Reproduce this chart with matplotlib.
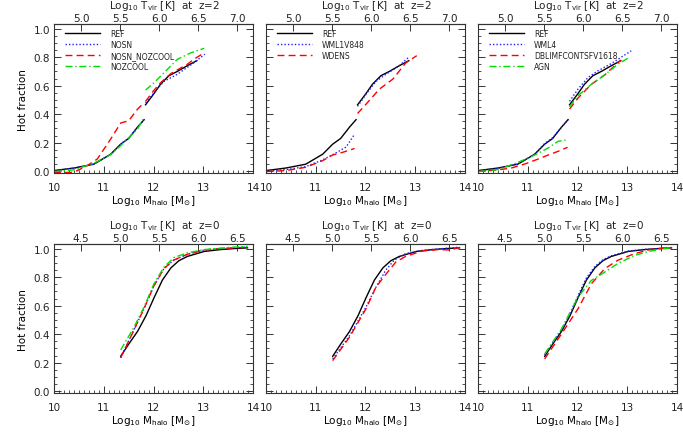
import numpy as np
import matplotlib
matplotlib.use("Agg")
import matplotlib.pyplot as plt
from matplotlib.ticker import MultipleLocator

# ---- data: hot fraction vs log10 halo mass ----
# z=2 (two resolution segments each: lo / hi)
ref_z2_lo_m = [10.0, 10.4, 10.8, 11.14, 11.34, 11.5, 11.68, 11.81]
ref_z2_lo_f = [0.005, 0.023, 0.05, 0.12, 0.19, 0.23, 0.31, 0.362]
ref_z2_hi_m = [11.84, 12.0, 12.14, 12.31, 12.48, 12.68, 12.87]
ref_z2_hi_f = [0.466, 0.54, 0.61, 0.67, 0.70, 0.74, 0.775]

nosn_z2_lo_m = [10.0, 10.4, 10.8, 11.14, 11.34, 11.5, 11.68, 11.81]
nosn_z2_lo_f = [0.004, 0.022, 0.05, 0.118, 0.19, 0.232, 0.31, 0.36]
nosn_z2_hi_m = [11.84, 12.01, 12.21, 12.48, 12.81, 13.03]
nosn_z2_hi_f = [0.48, 0.55, 0.63, 0.68, 0.76, 0.82]

nozc_nosn_z2_lo_m = [10.0, 10.4, 10.67, 10.87, 11.14, 11.34, 11.5, 11.68, 11.81]
nozc_nosn_z2_lo_f = [-0.01, -0.007, 0.04, 0.086, 0.226, 0.338, 0.354, 0.436, 0.48]
nozc_nosn_z2_hi_m = [11.84, 12.0, 12.14, 12.35, 12.68, 12.81, 13.02]
nozc_nosn_z2_hi_f = [0.49, 0.564, 0.62, 0.685, 0.75, 0.785, 0.83]

nozc_z2_lo_m = [10.0, 10.4, 10.8, 11.14, 11.34, 11.68, 11.81]
nozc_z2_lo_f = [-0.002, 0.01, 0.056, 0.117, 0.18, 0.297, 0.375]
nozc_z2_hi_m = [11.84, 12.01, 12.21, 12.48, 12.75, 13.02]
nozc_z2_hi_f = [0.569, 0.62, 0.69, 0.785, 0.83, 0.862]

wml1_z2_lo_m = [10.0, 10.4, 10.8, 11.14, 11.41, 11.61, 11.78]
wml1_z2_lo_f = [0.0, 0.012, 0.033, 0.08, 0.13, 0.17, 0.26]
wml1_z2_hi_m = [11.84, 12.01, 12.21, 12.41, 12.68, 12.87]
wml1_z2_hi_f = [0.455, 0.54, 0.63, 0.68, 0.74, 0.80]

wdens_z2_lo_m = [10.0, 10.4, 10.8, 11.14, 11.34, 11.54, 11.78]
wdens_z2_lo_f = [-0.002, 0.005, 0.028, 0.075, 0.114, 0.133, 0.16]
wdens_z2_hi_m = [11.84, 12.01, 12.28, 12.55, 12.81, 13.03]
wdens_z2_hi_f = [0.405, 0.47, 0.576, 0.646, 0.76, 0.81]

wml4_z2_lo_m = [10.0, 10.4, 10.8, 11.14, 11.34, 11.5, 11.68, 11.81]
wml4_z2_lo_f = [0.003, 0.02, 0.05, 0.12, 0.195, 0.235, 0.31, 0.36]
wml4_z2_hi_m = [11.84, 12.01, 12.21, 12.41, 12.68, 12.88, 13.08]
wml4_z2_hi_f = [0.49, 0.576, 0.657, 0.704, 0.755, 0.80, 0.844]

dblimf_z2_lo_m = [10.0, 10.4, 10.67, 10.94, 11.21, 11.41, 11.61, 11.80]
dblimf_z2_lo_f = [-0.002, 0.01, 0.023, 0.051, 0.086, 0.114, 0.14, 0.168]
dblimf_z2_hi_m = [11.84, 12.01, 12.28, 12.55, 12.87]
dblimf_z2_hi_f = [0.436, 0.513, 0.61, 0.676, 0.78]

agn_z2_lo_m = [10.0, 10.4, 10.8, 11.14, 11.41, 11.61, 11.78]
agn_z2_lo_f = [-0.002, 0.012, 0.062, 0.114, 0.163, 0.21, 0.22]
agn_z2_hi_m = [11.84, 12.01, 12.28, 12.55, 12.81, 13.05]
agn_z2_hi_f = [0.452, 0.53, 0.61, 0.676, 0.75, 0.80]

# z=0
ref_z0_m = [11.34, 11.5, 11.68, 11.85, 12.01, 12.18, 12.35, 12.51, 12.68, 13.02, 13.35, 13.62, 13.89]
ref_z0_f = [0.245, 0.33, 0.42, 0.53, 0.655, 0.78, 0.865, 0.915, 0.945, 0.98, 0.993, 1.0, 1.005]

nosn_z0_m = [11.34, 11.54, 11.81, 12.01, 12.21, 12.41, 12.68, 13.02, 13.35, 13.89]
nosn_z0_f = [0.236, 0.382, 0.58, 0.74, 0.86, 0.92, 0.96, 0.99, 1.0, 1.01]

nozc_nosn_z0_m = [11.34, 11.54, 11.81, 12.01, 12.21, 12.41, 12.68, 13.02, 13.35, 13.89]
nozc_nosn_z0_f = [0.234, 0.38, 0.58, 0.74, 0.86, 0.92, 0.96, 0.99, 1.0, 1.01]

nozc_z0_m = [11.34, 11.61, 11.81, 12.01, 12.21, 12.41, 12.68, 13.02, 13.48, 13.89]
nozc_z0_f = [0.29, 0.45, 0.59, 0.754, 0.87, 0.937, 0.97, 0.993, 1.007, 1.016]

wml1_z0_m = [11.34, 11.68, 12.01, 12.21, 12.41, 12.58, 12.81, 13.15, 13.55, 13.89]
wml1_z0_f = [0.227, 0.39, 0.59, 0.73, 0.85, 0.92, 0.965, 0.988, 1.0, 1.01]

wdens_z0_m = [11.34, 11.68, 12.01, 12.21, 12.41, 12.61, 12.81, 13.15, 13.48, 13.69, 13.89]
wdens_z0_f = [0.215, 0.38, 0.578, 0.73, 0.82, 0.906, 0.946, 0.984, 0.993, 0.99, 1.007]

wml4_z0_m = [11.34, 11.5, 11.68, 11.85, 12.01, 12.18, 12.35, 12.51, 12.68, 13.02, 13.35, 13.62, 13.89]
wml4_z0_f = [0.255, 0.34, 0.43, 0.545, 0.67, 0.795, 0.875, 0.922, 0.95, 0.983, 0.995, 1.0, 1.007]

dblimf_z0_m = [11.34, 11.68, 12.01, 12.28, 12.55, 12.81, 13.15, 13.48, 13.89]
dblimf_z0_f = [0.227, 0.403, 0.578, 0.754, 0.86, 0.918, 0.965, 0.995, 1.007]

agn_z0_m = [11.34, 11.68, 12.01, 12.28, 12.55, 12.81, 13.15, 13.48, 13.89]
agn_z0_f = [0.262, 0.438, 0.66, 0.777, 0.836, 0.895, 0.953, 0.984, 1.007]

# ---- styles ----
BLK = dict(color="black", ls="-")
BLU = dict(color="#2020ff", ls=(0, (1, 1.5)))
RED = dict(color="red", ls=(0, (5, 3)))
GRN = dict(color="#00dd00", ls=(0, (5, 2, 1, 2)))

panels_z2 = [
    [("REF", BLK, ref_z2_lo_m, ref_z2_lo_f, ref_z2_hi_m, ref_z2_hi_f),
     ("NOSN", BLU, nosn_z2_lo_m, nosn_z2_lo_f, nosn_z2_hi_m, nosn_z2_hi_f),
     ("NOSN_NOZCOOL", RED, nozc_nosn_z2_lo_m, nozc_nosn_z2_lo_f, nozc_nosn_z2_hi_m, nozc_nosn_z2_hi_f),
     ("NOZCOOL", GRN, nozc_z2_lo_m, nozc_z2_lo_f, nozc_z2_hi_m, nozc_z2_hi_f)],
    [("REF", BLK, ref_z2_lo_m, ref_z2_lo_f, ref_z2_hi_m, ref_z2_hi_f),
     ("WML1V848", BLU, wml1_z2_lo_m, wml1_z2_lo_f, wml1_z2_hi_m, wml1_z2_hi_f),
     ("WDENS", RED, wdens_z2_lo_m, wdens_z2_lo_f, wdens_z2_hi_m, wdens_z2_hi_f)],
    [("REF", BLK, ref_z2_lo_m, ref_z2_lo_f, ref_z2_hi_m, ref_z2_hi_f),
     ("WML4", BLU, wml4_z2_lo_m, wml4_z2_lo_f, wml4_z2_hi_m, wml4_z2_hi_f),
     ("DBLIMFCONTSFV1618", RED, dblimf_z2_lo_m, dblimf_z2_lo_f, dblimf_z2_hi_m, dblimf_z2_hi_f),
     ("AGN", GRN, agn_z2_lo_m, agn_z2_lo_f, agn_z2_hi_m, agn_z2_hi_f)],
]
panels_z0 = [
    [(BLK, ref_z0_m, ref_z0_f), (BLU, nosn_z0_m, nosn_z0_f),
     (RED, nozc_nosn_z0_m, nozc_nosn_z0_f), (GRN, nozc_z0_m, nozc_z0_f)],
    [(BLK, ref_z0_m, ref_z0_f), (BLU, wml1_z0_m, wml1_z0_f),
     (RED, wdens_z0_m, wdens_z0_f)],
    [(BLK, ref_z0_m, ref_z0_f), (BLU, wml4_z0_m, wml4_z0_f),
     (RED, dblimf_z0_m, dblimf_z0_f), (GRN, agn_z0_m, agn_z0_f)],
]

TXT = "#222222"
plt.rcParams["font.family"] = "DejaVu Sans"
plt.rcParams["font.size"] = 7.5
plt.rcParams["axes.edgecolor"] = "#333333"
plt.rcParams["axes.linewidth"] = 0.8
plt.rcParams["text.color"] = TXT
plt.rcParams["xtick.color"] = "#333333"
plt.rcParams["ytick.color"] = "#333333"
plt.rcParams["xtick.labelcolor"] = TXT
plt.rcParams["ytick.labelcolor"] = TXT

fig = plt.figure(figsize=(6.83, 4.39), dpi=100)

lefts = [54 / 683, 266 / 683, 478 / 683]
width = 199 / 683
bottoms = [1 - 174.3 / 439, 1 - 394.3 / 439]
height = 149 / 439

SLOPE = 0.637  # dex T per dex M
M0 = 10.543


def style_axes(ax, zlabel, t0, tticks, ylab):
    ax.set_xlim(10, 14)
    ax.set_ylim(-0.014, 1.03)
    ax.xaxis.set_major_locator(MultipleLocator(1))
    ax.xaxis.set_minor_locator(MultipleLocator(0.1))
    ax.yaxis.set_major_locator(MultipleLocator(0.2))
    ax.yaxis.set_minor_locator(MultipleLocator(0.05))
    ax.tick_params(which="both", direction="in", right=True, top=False, labelsize=7.5)
    ax.tick_params(which="major", length=5, width=0.7)
    ax.tick_params(which="minor", length=2.5, width=0.6)
    ax.tick_params(axis="x", pad=6)
    ax.tick_params(axis="y", pad=3)
    ax.set_xticks([10, 11, 12, 13, 14])
    ax.set_xticklabels(["10", "11", "12", "13", "14"])
    if ylab:
        ax.set_yticks([0, 0.2, 0.4, 0.6, 0.8, 1.0])
        ax.set_yticklabels(["0.0", "0.2", "0.4", "0.6", "0.8", "1.0"])
        ax.set_ylabel("Hot fraction", fontsize=7.5, labelpad=4)
    else:
        ax.set_yticklabels([])
    ax.set_xlabel(r"Log$_{10}$ M$_{\rm halo}$ [M$_{\odot}$]", fontsize=7.5, labelpad=1)

    sec = ax.secondary_xaxis("top", functions=(lambda m: t0 + SLOPE * (m - M0),
                                              lambda t: M0 + (t - t0) / SLOPE))
    sec.set_xticks(tticks)
    sec.set_xticklabels(["%.1f" % t for t in tticks])
    sec.tick_params(direction="in", length=5, width=0.7, pad=1.0, labelsize=7.5)
    ax.text(0.555, 1.107, r"Log$_{10}$ T$_{\rm vir}$ [K]  at  z=%s" % zlabel,
            transform=ax.transAxes, ha="center", va="baseline", fontsize=7.5)


for i, series in enumerate(panels_z2):
    ax = fig.add_axes([lefts[i], bottoms[0], width, height])
    for name, st, mlo, flo, mhi, fhi in series:
        ax.plot(mlo, flo, lw=1.0, label=name, **st)
        ax.plot(mhi, fhi, lw=1.0, **st)
    ax.legend(loc="upper left", frameon=False, fontsize=5.5, handlelength=4.6,
              handletextpad=1.3, labelspacing=0.28, borderaxespad=0.15,
              bbox_to_anchor=(0.035, 1.0))
    style_axes(ax, "2", 5.0, [5.0, 5.5, 6.0, 6.5, 7.0], i == 0)

for i, series in enumerate(panels_z0):
    ax = fig.add_axes([lefts[i], bottoms[1], width, height])
    for st, m, f in series:
        ax.plot(m, f, lw=1.0, **st)
    style_axes(ax, "0", 4.5, [4.5, 5.0, 5.5, 6.0, 6.5], i == 0)

fig.savefig("out.png", dpi=100)
